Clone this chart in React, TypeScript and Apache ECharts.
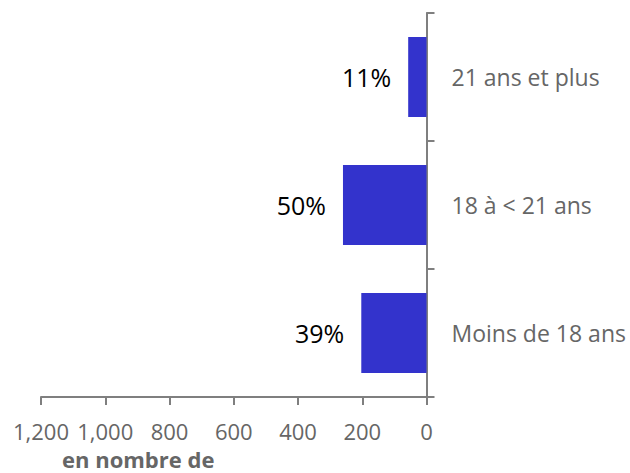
import React, { useEffect, useRef } from "react";
import * as echarts from "echarts";

const categories = ["Moins de 18 ans", "18 à < 21 ans", "21 ans et plus"];
const values = [203, 260, 57];
const shares = ["39%", "50%", "11%"];
const axisName = "en nombre de";

export default function App() {
  const ref = useRef<HTMLDivElement>(null);
  useEffect(() => {
    if (!ref.current) return;
    const chart = echarts.init(ref.current, undefined, { renderer: "svg" });
    const font = "'Open Sans', 'Noto Sans', sans-serif";
    chart.setOption({
      animation: false,
      textStyle: { fontFamily: font },
      grid: { left: 41, right: 203.5, top: 13, bottom: 76, containLabel: false },
      xAxis: {
        type: "value",
        inverse: true,
        min: 0,
        max: 1200,
        interval: 200,
        splitLine: { show: false },
        axisLine: { show: true, lineStyle: { color: "#7f7f7f", width: 2 } },
        axisTick: { show: true, length: 8, lineStyle: { color: "#7f7f7f", width: 2 } },
        axisLabel: {
          color: "#666666",
          fontSize: 22,
          fontFamily: font,
          margin: 23,
          formatter: (v: number) => v.toLocaleString("en-US"),
        },
      },
      yAxis: {
        type: "category",
        position: "right",
        data: categories,
        axisLine: { show: true, lineStyle: { color: "#7f7f7f", width: 2 } },
        axisTick: { show: true, length: 8, lineStyle: { color: "#7f7f7f", width: 2 } },
        axisLabel: { color: "#666666", fontSize: 23, fontFamily: font, margin: 25 },
      },
      graphic: [
        {
          type: "text",
          left: 137 - 75,
          top: 448,
          style: {
            text: axisName,
            fill: "#666666",
            font: `bold 22px ${font}`,
          },
        },
      ],
      series: [
        {
          type: "bar",
          data: values,
          barCategoryGap: "37.5%",
          itemStyle: { color: "#3333CC" },
          label: {
            show: true,
            position: "left",
            distance: 17,
            color: "#000000",
            fontSize: 25,
            fontFamily: font,
            formatter: (p: any) => shares[p.dataIndex],
          },
        },
      ],
    });
    return () => chart.dispose();
  }, []);
  return <div ref={ref} style={{ width: 630, height: 473, position: "absolute", left: 0, top: 0 }} />;
}
